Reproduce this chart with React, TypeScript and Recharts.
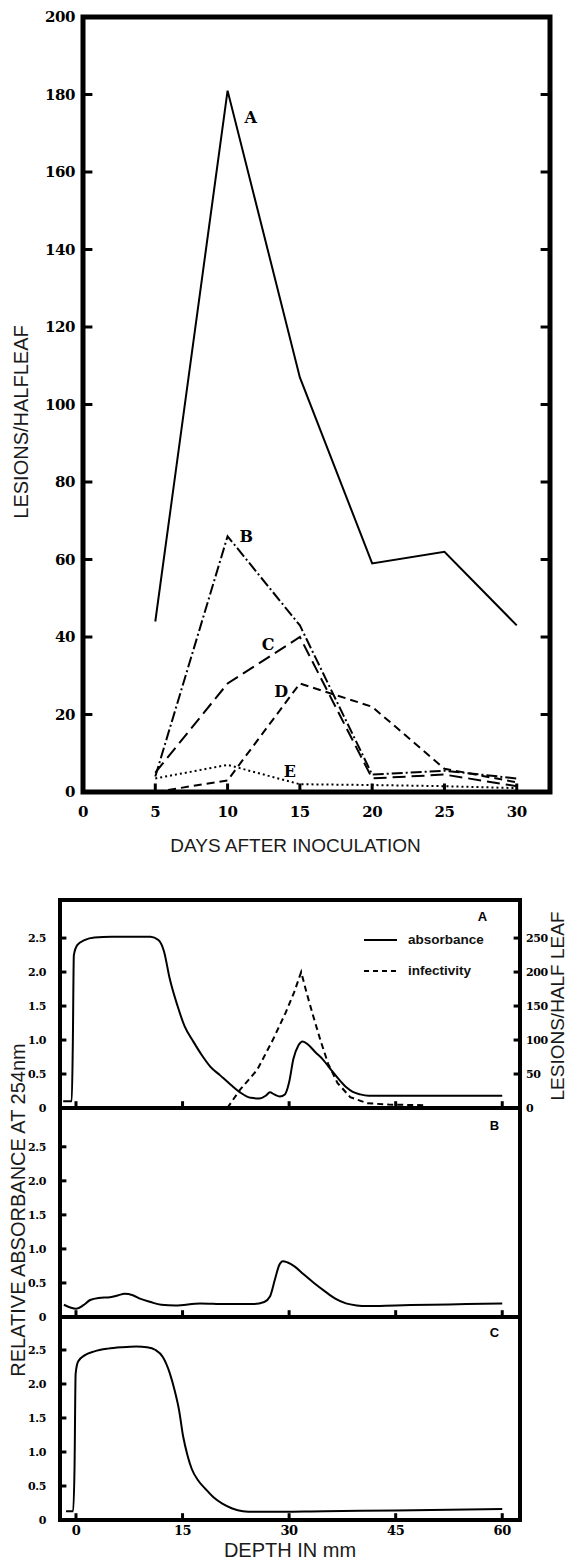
import { LineChart, Line, XAxis, YAxis, ReferenceDot, ReferenceArea, ReferenceLine } from 'recharts';

// upper figure: lesions per half leaf vs days after inoculation
const days = [5, 10, 15, 20, 25, 30];
const lesionsA = [44, 181, 107, 59, 62, 43];
const lesionsB = [4, 66, 43, 4.5, 5.5, 3.5];
const lesionsC = [5, 28, 40, 3.5, 4.5, 1.5];
const lesionsD = [0, 3, 28, 22, 6, 2.5];
const lesionsE = [3.5, 7, 2, 1.8, 1.5, 1];
const dayTicks = [0, 5, 10, 15, 20, 25, 30];
const lesionTicks = [0, 20, 40, 60, 80, 100, 120, 140, 160, 180, 200];
const curveNames = ['A', 'B', 'C', 'D', 'E'];
const curveNameDays = [11.6, 11.3, 12.8, 13.7, 14.3];
const curveNameLesions = [174, 66, 38, 26, 5.4];

// lower figure: gradient scans, depth in mm
const depthTicks = [0, 15, 30, 45, 60];
const absTicks = [0, 0.5, 1, 1.5, 2, 2.5];
const infTicks = [0, 50, 100, 150, 200, 250];

const scanADepth = [-1.8, -0.6, -0.45, -0.3, 0.2, 1.2, 2.6, 5, 8, 10.5, 11.6, 12.4, 13.2, 14.3, 15.3, 16.5, 17.7, 18.9, 20.3, 21.7, 23.1, 24.6, 25.8, 26.7, 27.3, 27.9, 28.7, 29.4, 30, 30.6, 31.3, 31.9, 32.7, 33.7, 34.7, 36, 37.1, 38.1, 38.9, 40, 41.2, 50, 60];
const scanAAbs = [0.1, 0.1, 0.9, 2.25, 2.4, 2.47, 2.51, 2.52, 2.52, 2.52, 2.47, 2.3, 1.9, 1.5, 1.2, 0.98, 0.78, 0.61, 0.48, 0.35, 0.23, 0.15, 0.14, 0.18, 0.23, 0.2, 0.17, 0.2, 0.38, 0.72, 0.92, 0.98, 0.93, 0.82, 0.72, 0.55, 0.41, 0.3, 0.24, 0.2, 0.18, 0.18, 0.18];
const infDepth = [21.3, 23.1, 25.5, 27.7, 29.5, 30.7, 31.7, 32.5, 33.4, 34.4, 35.5, 36.8, 38.6, 41, 44, 49.4];
const infLesions = [0, 27, 56, 100, 140, 170, 200, 168, 135, 100, 65, 37, 16, 7, 5, 4];
const scanBDepth = [-1.7, -0.8, 0, 1, 2, 3.2, 4.8, 6, 6.8, 8, 9, 10.5, 12, 14, 17.5, 21, 25, 26.5, 27.3, 28, 28.6, 29.1, 29.8, 30.8, 32, 33.5, 35, 36.5, 38, 39.5, 41, 45, 50, 55, 60];
const scanBAbs = [0.18, 0.14, 0.12, 0.17, 0.25, 0.28, 0.29, 0.32, 0.34, 0.32, 0.27, 0.22, 0.18, 0.17, 0.2, 0.19, 0.19, 0.22, 0.3, 0.55, 0.76, 0.82, 0.8, 0.74, 0.63, 0.5, 0.38, 0.27, 0.2, 0.17, 0.16, 0.17, 0.18, 0.19, 0.2];
const scanCDepth = [-1.4, -0.4, -0.2, -0.05, 0.3, 1.2, 2.6, 4.5, 6.5, 8.5, 10, 11.2, 12.2, 13.2, 13.9, 14.5, 15.1, 15.7, 16.3, 17.2, 18.2, 19.4, 20.6, 22, 23.5, 25, 27, 35, 45, 60];
const scanCAbs = [0.13, 0.13, 0.8, 2.15, 2.33, 2.42, 2.48, 2.52, 2.54, 2.55, 2.54, 2.5, 2.4, 2.16, 1.9, 1.62, 1.22, 0.95, 0.75, 0.58, 0.46, 0.33, 0.24, 0.17, 0.13, 0.12, 0.12, 0.13, 0.14, 0.16];

const lesionDash: Record<string, string | undefined> = {
  A: undefined,
  B: '11 3 2 3',
  C: '13 6',
  D: '8 5',
  E: '2 3',
};

const serif = '"DejaVu Serif", serif';
const sans = '"Liberation Sans", Arial, sans-serif';

type TickOpts = {
  side: 'left' | 'right' | 'bottom';
  fontSize?: number;
  format?: (v: number) => string;
};

// labels only; the tick marks themselves are short reference segments inside the frame
function tickText(o: TickOpts) {
  return function TickText(props: any) {
    const { x, y, payload } = props;
    const label = o.format ? o.format(payload.value) : String(payload.value);
    const style = { fontFamily: serif, fontWeight: 700, fontSize: o.fontSize ?? 12, fill: '#000', letterSpacing: -0.4 };
    if (o.side === 'bottom') {
      return (
        <text x={x} y={y} dy="0.75em" textAnchor="middle" style={style}>
          {label}
        </text>
      );
    }
    return (
      <text x={x} y={y} dy="0.36em" textAnchor={o.side === 'left' ? 'end' : 'start'} style={style}>
        {label}
      </text>
    );
  };
}

function tickMarks(
  values: number[],
  seg: (v: number) => [{ x: number; y: number }, { x: number; y: number }],
  prefix: string,
  yAxisId?: string
) {
  return values.map((v) => (
    <ReferenceLine
      key={prefix + v}
      yAxisId={yAxisId}
      segment={seg(v)}
      stroke="#000"
      strokeWidth={3}
      ifOverflow="visible"
    />
  ));
}

function SideTitle({ text, cx, cy, size = 20 }: { text: string; cx: number; cy: number; size?: number }) {
  return (
    <div
      style={{
        position: 'absolute',
        left: cx,
        top: cy,
        transform: 'translate(-50%, -50%) rotate(-90deg)',
        whiteSpace: 'nowrap',
        fontFamily: sans,
        fontSize: size,
        lineHeight: 1,
        color: '#1a1a1a',
      }}
    >
      {text}
    </div>
  );
}

const dayMax = 32.3;

function LesionChart() {
  const table = days.map((day, i) => ({
    day,
    A: lesionsA[i],
    B: lesionsB[i],
    C: lesionsC[i],
    D: lesionsD[i],
    E: lesionsE[i],
  }));

  return (
    <div style={{ position: 'absolute', left: 0, top: 0 }}>
      <LineChart width={568} height={858} data={table} margin={{ top: 17, right: 18, bottom: 6, left: 0 }}>
        <XAxis
          dataKey="day"
          type="number"
          domain={[0, dayMax]}
          allowDataOverflow
          ticks={dayTicks}
          interval={0}
          height={60}
          axisLine={false}
          tickLine={false}
          tickSize={0}
          tickMargin={14}
          tick={tickText({ side: 'bottom', fontSize: 15 })}
          label={{
            value: 'DAYS AFTER INOCULATION',
            position: 'insideBottom',
            offset: 0,
            dx: -21,
            style: { fontFamily: sans, fontSize: 19, fill: '#1a1a1a' },
          }}
        />
        <YAxis
          domain={[0, 200]}
          ticks={lesionTicks}
          interval={0}
          width={83}
          axisLine={false}
          tickLine={false}
          tickSize={0}
          tickMargin={8}
          tick={tickText({ side: 'left', fontSize: 15 })}
        />
        {tickMarks(lesionTicks.slice(1, -1), (v) => [{ x: 0, y: v }, { x: 0.65, y: v }], 'l')}
        {tickMarks(lesionTicks.slice(1, -1), (v) => [{ x: dayMax, y: v }, { x: dayMax - 0.65, y: v }], 'r')}
        {tickMarks(dayTicks.slice(1), (d) => [{ x: d, y: 0 }, { x: d, y: 2.2 }], 'b')}
        <ReferenceArea
          x1={0}
          x2={dayMax}
          y1={0}
          y2={200}
          ifOverflow="visible"
          fill="none"
          stroke="#000"
          strokeWidth={5}
        />
        {curveNames.map((name) => (
          <Line
            key={name}
            type="linear"
            dataKey={name}
            stroke="#000"
            strokeWidth={2}
            strokeDasharray={lesionDash[name]}
            dot={false}
            isAnimationActive={false}
          />
        ))}
        {curveNames.map((name, i) => (
          <ReferenceDot
            key={'lbl' + name}
            x={curveNameDays[i]}
            y={curveNameLesions[i]}
            r={0}
            fill="none"
            stroke="none"
            label={{ value: name, position: 'center', style: { fontFamily: serif, fontWeight: 700, fontSize: 16, fill: '#000' } }}
          />
        ))}
      </LineChart>
    </div>
  );
}

type PanelProps = {
  name: string;
  top: number;
  plotHeight: number;
  yMax: number;
  depths: number[];
  abs: number[];
  letterDepth: number;
  letterAbs: number;
  withInfectivity?: boolean;
  withDepthAxis?: boolean;
};

const absFormat = (v: number) => (v === 0 ? '0' : v.toFixed(1));
const depthMin = -2.25;
const depthMax = 62.5;

function ScanPanel(p: PanelProps) {
  const scan = p.depths.map((depth, i) => ({ depth, abs: p.abs[i] }));
  const inf = infDepth.map((depth, i) => ({ depth, lesions: infLesions[i] }));
  const axisH = p.withDepthAxis ? 42 : 0;
  const padTop = 6;
  const padBottom = p.withDepthAxis ? 0 : 8;
  const height = padTop + p.plotHeight + axisH + padBottom;

  return (
    <div style={{ position: 'absolute', left: 0, top: p.top - padTop }}>
      <LineChart width={568} height={height} margin={{ top: padTop, right: 0, bottom: padBottom, left: 0 }}>
        <XAxis
          dataKey="depth"
          type="number"
          domain={[depthMin, depthMax]}
          allowDataOverflow
          ticks={depthTicks}
          interval={0}
          height={axisH}
          axisLine={false}
          tickLine={false}
          tickSize={0}
          tickMargin={5}
          tick={p.withDepthAxis ? tickText({ side: 'bottom', fontSize: 13 }) : false}
          label={
            p.withDepthAxis
              ? { value: 'DEPTH IN mm', position: 'insideBottom', offset: 5, style: { fontFamily: sans, fontSize: 20, fill: '#1a1a1a' } }
              : undefined
          }
        />
        <YAxis
          domain={[0, p.yMax]}
          allowDataOverflow
          ticks={absTicks}
          interval={0}
          width={60}
          axisLine={false}
          tickLine={false}
          tickSize={0}
          tickMargin={14}
          tick={tickText({ side: 'left', fontSize: 11, format: absFormat })}
        />
        <YAxis
          yAxisId="inf"
          orientation="right"
          domain={[0, p.yMax * 100]}
          allowDataOverflow
          ticks={p.withInfectivity ? infTicks : []}
          interval={0}
          width={48}
          axisLine={false}
          tickLine={false}
          tickSize={0}
          tickMargin={6}
          tick={p.withInfectivity ? tickText({ side: 'right', fontSize: 11 }) : false}
        />
        {tickMarks(absTicks.slice(1), (v) => [{ x: depthMin, y: v }, { x: depthMin + 0.9, y: v }], 'l')}
        {tickMarks(depthTicks, (d) => [{ x: d, y: 0 }, { x: d, y: 0.1 }], 'b')}
        {p.withInfectivity &&
          tickMarks(infTicks.slice(1), (v) => [{ x: depthMax, y: v }, { x: depthMax - 0.9, y: v }], 'r', 'inf')}
        <ReferenceArea
          x1={depthMin}
          x2={depthMax}
          y1={0}
          y2={p.yMax}
          ifOverflow="visible"
          fill="none"
          stroke="#000"
          strokeWidth={4}
        />
        <Line
          data={scan}
          type="monotone"
          dataKey="abs"
          stroke="#000"
          strokeWidth={2}
          dot={false}
          isAnimationActive={false}
        />
        {p.withInfectivity && (
          <Line
            data={inf}
            yAxisId="inf"
            type="linear"
            dataKey="lesions"
            stroke="#000"
            strokeWidth={2}
            strokeDasharray="6 4"
            dot={false}
            isAnimationActive={false}
          />
        )}
        <ReferenceDot
          x={p.letterDepth}
          y={p.letterAbs}
          r={0}
          fill="none"
          stroke="none"
          label={{ value: p.name, position: 'center', style: { fontFamily: sans, fontWeight: 700, fontSize: 13, fill: '#000' } }}
        />
      </LineChart>
    </div>
  );
}

function ScanKey() {
  const rows = [
    { label: 'absorbance', dash: undefined as string | undefined },
    { label: 'infectivity', dash: '5 4' },
  ];
  return (
    <div style={{ position: 'absolute', left: 364, top: 924 }}>
      {rows.map((r) => (
        <div key={r.label} style={{ display: 'flex', alignItems: 'center', height: 31 }}>
          <svg width={33} height={4}>
            <line x1={0} x2={33} y1={2} y2={2} stroke="#000" strokeWidth={2} strokeDasharray={r.dash} />
          </svg>
          <span style={{ marginLeft: 11, fontFamily: sans, fontWeight: 700, fontSize: 13.5, color: '#111' }}>{r.label}</span>
        </div>
      ))}
    </div>
  );
}

export default function App() {
  return (
    <div style={{ position: 'relative', width: 568, height: 1562, overflow: 'hidden', background: '#fff' }}>
      <style>{'body{margin:0}'}</style>
      <LesionChart />
      <SideTitle text="LESIONS/HALFLEAF" cx={21} cy={422} />

      <ScanPanel name="A" top={900} plotHeight={208} yMax={3.06} depths={scanADepth} abs={scanAAbs} letterDepth={57.2} letterAbs={2.82} withInfectivity />
      <ScanPanel name="B" top={1108} plotHeight={209} yMax={3.07} depths={scanBDepth} abs={scanBAbs} letterDepth={58.9} letterAbs={2.82} />
      <ScanPanel name="C" top={1317} plotHeight={203} yMax={2.985} depths={scanCDepth} abs={scanCAbs} letterDepth={58.9} letterAbs={2.76} withDepthAxis />
      <ScanKey />
      <SideTitle text="RELATIVE ABSORBANCE AT 254nm" cx={18} cy={1210} />
      <SideTitle text="LESIONS/HALF LEAF" cx={557} cy={1006} size={19} />
    </div>
  );
}
